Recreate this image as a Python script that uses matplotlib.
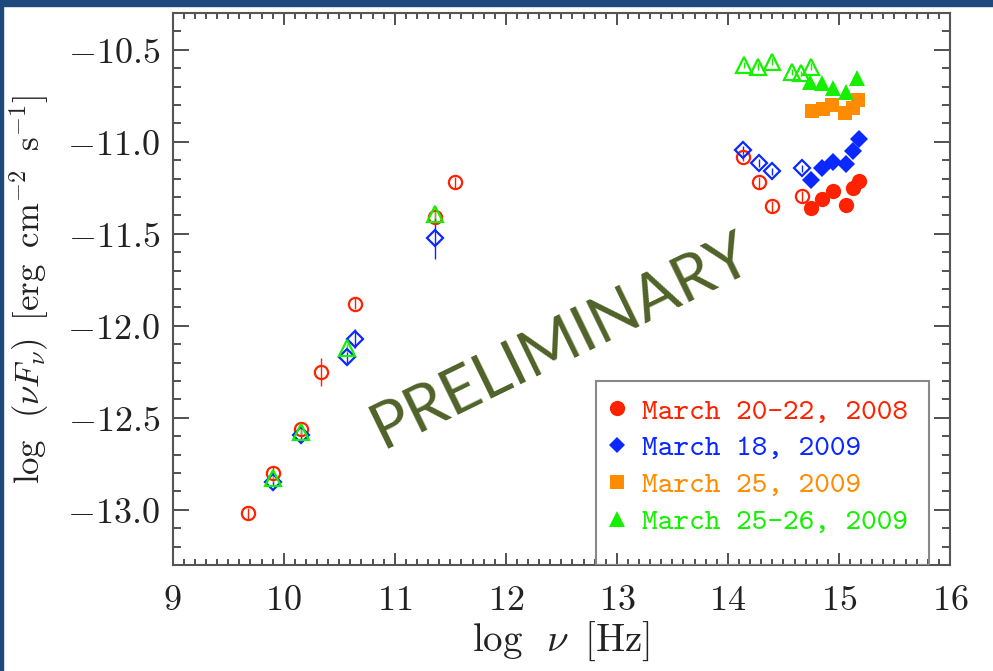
import matplotlib
matplotlib.use("Agg")
import matplotlib.pyplot as plt
from matplotlib.patches import Rectangle
from matplotlib.lines import Line2D
from matplotlib.ticker import MultipleLocator, FuncFormatter

plt.rcParams['mathtext.fontset'] = 'cm'

# March 20-22, 2008 (red): radio/mm/sub-mm + optical open, UV filled
red_open_x = [9.68, 9.90, 10.16, 10.34, 10.64, 11.36, 11.54, 14.14, 14.28, 14.40, 14.67]
red_open_y = [-13.02, -12.80, -12.56, -12.25, -11.88, -11.41, -11.22, -11.085, -11.22, -11.35, -11.295]
red_open_err = [0.03, 0.03, 0.03, 0.075, 0.03, 0.03, 0.03, 0.02, 0.03, 0.03, 0.03]
red_fill_x = [14.75, 14.85, 14.945, 15.06, 15.13, 15.18]
red_fill_y = [-11.36, -11.31, -11.27, -11.345, -11.25, -11.215]

# March 18, 2009 (blue)
blue_open_x = [9.90, 10.16, 10.57, 10.64, 11.36, 14.14, 14.28, 14.40, 14.67]
blue_open_y = [-12.85, -12.595, -12.17, -12.07, -11.525, -11.045, -11.115, -11.16, -11.145]
blue_open_err = [0.02, 0.02, 0.03, 0.05, 0.11, 0.02, 0.02, 0.02, 0.02]
blue_fill_x = [14.75, 14.85, 14.945, 15.06, 15.13, 15.18]
blue_fill_y = [-11.21, -11.14, -11.11, -11.12, -11.05, -10.985]

# March 25, 2009 (orange)
orange_fill_x = [14.755, 14.855, 14.935, 15.055, 15.13, 15.175]
orange_fill_y = [-10.835, -10.823, -10.80, -10.845, -10.818, -10.773]

# March 25-26, 2009 (green)
green_open_x = [9.90, 10.16, 10.57, 11.36, 14.145, 14.275, 14.40, 14.575, 14.66, 14.745]
green_open_y = [-12.83, -12.58, -12.12, -11.39, -10.583, -10.592, -10.565, -10.622, -10.628, -10.592]
green_open_err = [0.02, 0.02, 0.02, 0.03, 0.015, 0.02, 0.02, 0.015, 0.015, 0.02]
green_fill_x = [14.74, 14.845, 14.945, 15.065, 15.165]
green_fill_y = [-10.673, -10.682, -10.709, -10.728, -10.655]

legend_labels = ['March 20-22, 2008', 'March 18, 2009', 'March 25, 2009', 'March 25-26, 2009']

RED = '#FF2200'
BLUE = '#0A28FF'
ORANGE = '#FF8C00'
GREEN = '#14F000'

fig = plt.figure(figsize=(9.93, 6.71), dpi=100)
ax = fig.add_axes([0.1739, 0.158, 0.7828, 0.8227])

def open_pts(x, y, err, marker, color, ms):
    ax.errorbar(x, y, yerr=err, fmt=marker, mfc='none', mec=color, ecolor=color,
                elinewidth=1.0, capsize=0, ms=ms, mew=1.6)

def fill_pts(x, y, marker, color, ms):
    ax.plot(x, y, ls='none', marker=marker, color=color, ms=ms, mew=0)

open_pts(red_open_x, red_open_y, red_open_err, 'o', RED, 9.5)
fill_pts(red_fill_x, red_fill_y, 'o', RED, 11)
open_pts(blue_open_x, blue_open_y, blue_open_err, 'D', BLUE, 8)
fill_pts(blue_fill_x, blue_fill_y, 'D', BLUE, 9)
fill_pts(orange_fill_x, orange_fill_y, 's', ORANGE, 10)
open_pts(green_open_x, green_open_y, green_open_err, '^', GREEN, 11)
fill_pts(green_fill_x, green_fill_y, '^', GREEN, 11)

ax.set_xlim(9, 16)
ax.set_ylim(-13.3, -10.3)
ax.xaxis.set_major_locator(MultipleLocator(1))
ax.xaxis.set_minor_locator(MultipleLocator(0.1))
ax.yaxis.set_major_locator(MultipleLocator(0.5))
ax.yaxis.set_minor_locator(MultipleLocator(0.1))
ax.xaxis.set_major_formatter(FuncFormatter(lambda v, p: r'$%d$' % round(v)))
ax.yaxis.set_major_formatter(FuncFormatter(lambda v, p: r'$%.1f$' % v))

ax.tick_params(which='both', direction='in', top=True, right=True, color='#333333', width=1.2,
               labelcolor='#222222')
ax.tick_params(axis='x', which='major', length=8.6, pad=13, labelsize=26)
ax.tick_params(axis='x', which='minor', length=4.3)
ax.tick_params(axis='y', which='major', length=11.5, pad=9, labelsize=26)
ax.tick_params(axis='y', which='minor', length=6)
for s in ax.spines.values():
    s.set_color('#555555')
    s.set_linewidth(1.5)

ax.set_xlabel(r'$\log\;\;\nu\;\;[{\rm Hz}]$', fontsize=28, labelpad=2, color='#222222')
ax.set_ylabel(r'$\log\;\;(\nu F_{\nu})\;\;[{\rm erg\;\;cm^{-2}\;\;s^{-1}}]$', fontsize=25,
              labelpad=12, color='#222222')

# legend box
ax.add_patch(Rectangle((0.5446, 0.0), 0.4284, 0.3333, transform=ax.transAxes,
                       fill=False, edgecolor='#888888', lw=1.5, zorder=4))
handles = [Line2D([], [], ls='none', marker='o', color=RED, ms=11, mew=0),
           Line2D([], [], ls='none', marker='D', color=BLUE, ms=8.5, mew=0),
           Line2D([], [], ls='none', marker='s', color=ORANGE, ms=10, mew=0),
           Line2D([], [], ls='none', marker='^', color=GREEN, ms=11, mew=0)]
ax.legend(handles, legend_labels, loc='upper left', bbox_to_anchor=(0.556, 0.303),
          frameon=False, prop={'family': 'cmtt10', 'size': 21.5},
          labelcolor=[RED, BLUE, ORANGE, GREEN], handlelength=0.8,
          handletextpad=0.45, labelspacing=0.3, borderpad=0, borderaxespad=0)

fig.text(561 / 993, 1 - 342 / 671, 'PRELIMINARY', rotation=26, rotation_mode='anchor',
         ha='center', va='center', fontsize=46, family='Lato', color='#4F6228')

# slide frame
fig.patches.append(Rectangle((0, 1 - 6 / 671), 1, 6 / 671, transform=fig.transFigure,
                             color='#1F497D', zorder=10))
fig.patches.append(Rectangle((0, 0), 3 / 993, 1, transform=fig.transFigure,
                             color='#1F497D', zorder=10))

fig.savefig('out.png', dpi=100)
